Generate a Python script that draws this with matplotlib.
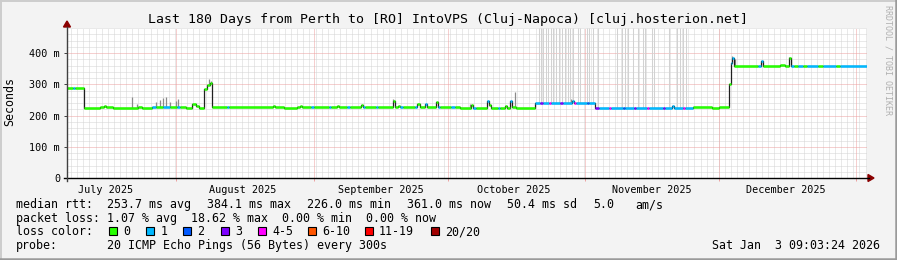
import datetime as dt
import numpy as np
import matplotlib
matplotlib.use('Agg')
import matplotlib.pyplot as plt
import matplotlib.dates as mdates
from matplotlib.lines import Line2D
from matplotlib.patches import Rectangle, Polygon

W, H = 897, 260
start = dt.datetime(2025, 7, 7, 9, 3, 24)
end = dt.datetime(2026, 1, 3, 9, 3, 24)

# median rtt steps: day offset from start, value in ms, loss class
med_day = [0.0, 1.3, 1.8, 3.8, 7.4, 8.3, 8.8, 10.4, 16.0, 16.9,
           19.1, 20.0, 21.6, 23.2, 24.8, 25.5, 26.8, 28.1, 29.0, 29.7,
           30.8, 31.5, 32.2, 32.6, 36.0, 36.5, 46.3, 46.8, 48.9, 51.8,
           52.5, 52.9, 55.0, 55.5, 59.0, 59.5, 60.8, 61.2, 63.0, 63.6,
           66.1, 66.5, 67.0, 69.5, 70.0, 73.4, 73.8, 74.5, 74.9, 75.5,
           78.3, 78.7, 79.5, 80.5, 81.0, 83.0, 83.4, 84.0, 86.5, 87.2,
           88.4, 91.0, 91.4, 92.0, 94.4, 94.9, 95.3, 97.0, 97.5, 98.6,
           99.0, 99.7, 100.1, 101.0, 105.3, 106.5, 107.0, 108.5, 109.0, 111.0,
           111.5, 113.6, 114.0, 114.6, 117.0, 117.5, 118.8, 119.6, 122.0, 122.5,
           125.0, 125.5, 127.5, 128.0, 130.5, 131.0, 134.0, 134.5, 136.1, 136.6,
           138.5, 139.0, 140.9, 145.2, 146.8, 149.0, 149.3, 149.6, 150.1, 155.5,
           156.1, 156.6, 160.5, 161.5, 162.4, 162.8, 163.5, 164.5, 165.5, 166.5,
           169.0, 170.0, 173.0, 174.0]
med_ms = [289, 289, 289, 224, 227, 230, 227, 224, 228, 224,
          226, 226, 227, 226, 228, 228, 224, 236, 230, 224,
          285, 298, 304, 227, 227, 227, 232, 227, 224, 227,
          232, 226, 226, 226, 226, 226, 230, 226, 226, 226,
          234, 226, 226, 226, 226, 248, 226, 230, 226, 226,
          226, 236, 226, 236, 226, 243, 226, 226, 226, 226,
          223, 233, 223, 223, 246, 235, 224, 224, 224, 230,
          224, 246, 226, 223, 239, 239, 239, 239, 239, 239,
          239, 247, 239, 239, 239, 239, 225, 225, 225, 225,
          225, 225, 225, 225, 225, 225, 225, 225, 232, 225,
          225, 225, 226, 223, 226, 300, 367, 384, 359, 359,
          376, 359, 362, 359, 384, 359, 359, 359, 359, 360,
          360, 360, 360, 360]
med_loss = [0, 1, 0, 0, 0, 0, 0, 0, 0, 0,
            1, 0, 1, 0, 1, 0, 0, 0, 0, 0,
            0, 0, 0, 0, 1, 0, 0, 0, 0, 0,
            0, 0, 1, 0, 1, 0, 0, 0, 1, 0,
            0, 1, 0, 1, 0, 0, 0, 0, 1, 0,
            1, 0, 0, 1, 0, 0, 1, 0, 1, 0,
            0, 0, 1, 0, 1, 0, 0, 1, 0, 0,
            0, 1, 0, 0, 1, 3, 1, 4, 1, 3,
            1, 1, 4, 1, 2, 1, 3, 1, 4, 1,
            2, 1, 3, 1, 4, 1, 3, 1, 1, 1,
            4, 1, 0, 0, 0, 0, 1, 1, 0, 1,
            1, 0, 0, 0, 0, 1, 0, 1, 0, 1,
            0, 1, 0, 1]

# short smoke spikes: day offset and top of spike (ms)
smoke_day = [14.6, 15.8, 20.0, 20.9, 21.6, 22.3, 23.2, 24.5, 25.0, 32.0,
             32.4, 73.4, 90.7, 100.8, 113.4, 149.6, 150.3, 162.4]
smoke_top = [258, 236, 244, 250, 255, 258, 244, 248, 252, 316,
             310, 252, 236, 276, 252, 392, 380, 386]

# smoke reaching beyond the top of the graph
gap_day = [106.2, 106.7, 107.1, 107.8, 108.2, 108.9, 109.4, 110.0, 110.7, 111.4,
           112.1, 112.7, 113.2, 113.9, 115.0, 115.4, 117.0, 117.5, 118.4, 119.5,
           123.8, 124.9, 125.6, 126.2, 127.4, 128.5, 129.6, 130.1, 131.6, 132.1,
           135.5, 137.3, 137.9, 138.6, 139.3]

loss_labels = ['0', '1', '2', '3', '4-5', '6-10', '11-19', '20/20']
loss_colors = ['#26ff00', '#00b8ff', '#0059ff', '#7e00ff', '#ff00ff',
               '#ff5500', '#ff0000', '#a10000']

rtt_fields = ['253.7 ms avg', '384.1 ms max', '226.0 ms min', '361.0 ms now',
              '50.4 ms sd', '5.0', 'am/s']
rtt_x = [107, 207, 307, 407, 507, 593, 635]
loss_line = 'packet loss: 1.07 % avg  18.62 % max  0.00 % min  0.00 % now'

plt.rcParams['font.family'] = ['DejaVu Sans Mono']


def fx(px):
    return px / W


def fy(py):
    return 1 - py / H


fig = plt.figure(figsize=(W / 100, H / 100), dpi=100, facecolor='#f3f3f3')
ax = fig.add_axes([fx(67), fy(178), 800 / W, 150 / H], facecolor='white')

t0 = mdates.date2num(start)
t1 = mdates.date2num(end)
x = t0 + np.array(med_day + [180.0])
y = np.array(med_ms + [med_ms[-1]])

# grid
ax.set_xlim(t0, t1)
ax.set_ylim(0, 480)
for v in np.arange(20, 481, 20):
    if v % 100:
        ax.axhline(v, color='#d4d4d4', lw=0.72, ls=(0, (1, 1)), zorder=0)
    else:
        ax.axhline(v, color='#eca0a0', lw=0.72, ls=(0, (1, 1)), zorder=0.5)
for v in np.arange(np.ceil(t0) + 0.3, t1, 1.375):
    ax.axvline(v, color='#d4d4d4', lw=0.72, ls=(0, (1, 1)), zorder=0)
month_starts = mdates.MonthLocator(bymonthday=1).tick_values(start, end)
for v in month_starts:
    if t0 < v < t1:
        ax.axvline(v, color='#eca0a0', lw=0.72, ls=(0, (1, 1)), zorder=0.5)

# smoke
sd = t0 + np.array(smoke_day)
idx = np.searchsorted(x, sd, side='right') - 1
ax.vlines(sd, y[idx], smoke_top, color='#8a8a8a', lw=0.9, zorder=1)
gd = t0 + np.array(gap_day)
idx = np.searchsorted(x, gd, side='right') - 1
ax.vlines(gd, y[idx], 480, color='#d2d2d2', lw=0.75, zorder=1)

# median line and loss colour bands
ax.step(x, y, where='post', color='#202020', lw=0.9, zorder=2)
ax.hlines(y[:-1], x[:-1], x[1:], colors=[loss_colors[c] for c in med_loss],
          lw=1.8, capstyle='butt', zorder=3)

for s in ax.spines.values():
    s.set_visible(False)

ax.set_yticks([0, 100, 200, 300, 400])
ax.set_yticklabels(['0', '100 m', '200 m', '300 m', '400 m'])
ax.tick_params(axis='y', length=2.5, width=0.7, pad=2.5, labelsize=7.3,
               color='#404040')
ax.xaxis.set_major_locator(mdates.MonthLocator(bymonthday=16))
ax.xaxis.set_major_formatter(mdates.DateFormatter('%B %Y'))
ax.xaxis.set_minor_locator(mdates.MonthLocator(bymonthday=1))
ax.tick_params(axis='x', which='major', length=0, pad=5, labelsize=7.3)
ax.tick_params(axis='x', which='minor', length=2.5, width=0.7, color='#eca0a0')

# axis lines with arrows
fig.add_artist(Line2D([fx(64), fx(869)], [fy(178), fy(178)], color='black', lw=1.0))
fig.add_artist(Line2D([fx(67), fx(67)], [fy(181), fy(27)], color='#404040', lw=1.0))
fig.add_artist(Polygon([[fx(868), fy(174.5)], [fx(874), fy(178)], [fx(868), fy(181.5)]],
                       closed=True, color='#8b0000', transform=fig.transFigure))
fig.add_artist(Polygon([[fx(63.5), fy(27)], [fx(67), fy(21)], [fx(70.5), fy(27)]],
                       closed=True, color='#8b0000', transform=fig.transFigure))

# frame
fig.add_artist(Line2D([fx(0.5), fx(0.5)], [0, 1], color='#cccccc', lw=1.4))
fig.add_artist(Line2D([0, 1], [fy(0.5), fy(0.5)], color='#cccccc', lw=1.4))
fig.add_artist(Line2D([fx(896), fx(896)], [0, 1], color='#9a9a9a', lw=1.8))
fig.add_artist(Line2D([0, 1], [fy(259), fy(259)], color='#9a9a9a', lw=1.8))

fig.text(fx(448), fy(19.5), 'Last 180 Days from Perth to [RO] IntoVPS (Cluj-Napoca) [cluj.hosterion.net]',
         ha='center', va='center', fontsize=9.5)
fig.text(fx(10), fy(102), 'Seconds', rotation=90, ha='center', va='center', fontsize=8.4)
fig.text(fx(888), fy(5), 'RRDTOOL / TOBI OETIKER', rotation=270, ha='center', va='top',
         fontsize=6.0, color='#b0b0b0')

fs = 8.4
fig.text(fx(16), fy(208), 'median rtt:', fontsize=fs, va='baseline')
for px, s in zip(rtt_x, rtt_fields):
    fig.text(fx(px), fy(208), s, fontsize=fs, va='baseline')
fig.text(fx(16), fy(221.7), loss_line, fontsize=fs, va='baseline')
fig.text(fx(16), fy(235.3), 'loss color:', fontsize=fs, va='baseline')
box_x = [108.5, 146, 183, 220.5, 257.5, 308, 364.5, 431]
for bx, lab, col in zip(box_x, loss_labels, loss_colors):
    fig.add_artist(Rectangle((fx(bx), fy(235)), 8 / W, 8 / H, facecolor=col,
                             edgecolor='black', lw=0.8, transform=fig.transFigure))
    fig.text(fx(bx + 14.5), fy(235.3), lab, fontsize=fs, va='baseline')
fig.text(fx(16), fy(249), 'probe:', fontsize=fs, va='baseline')
fig.text(fx(107), fy(249), '20 ICMP Echo Pings (56 Bytes) every 300s', fontsize=fs, va='baseline')
fig.text(fx(880), fy(249), 'Sat Jan  3 09:03:24 2026', fontsize=fs, va='baseline', ha='right')

fig.savefig('out.png', dpi=100, facecolor=fig.get_facecolor())
